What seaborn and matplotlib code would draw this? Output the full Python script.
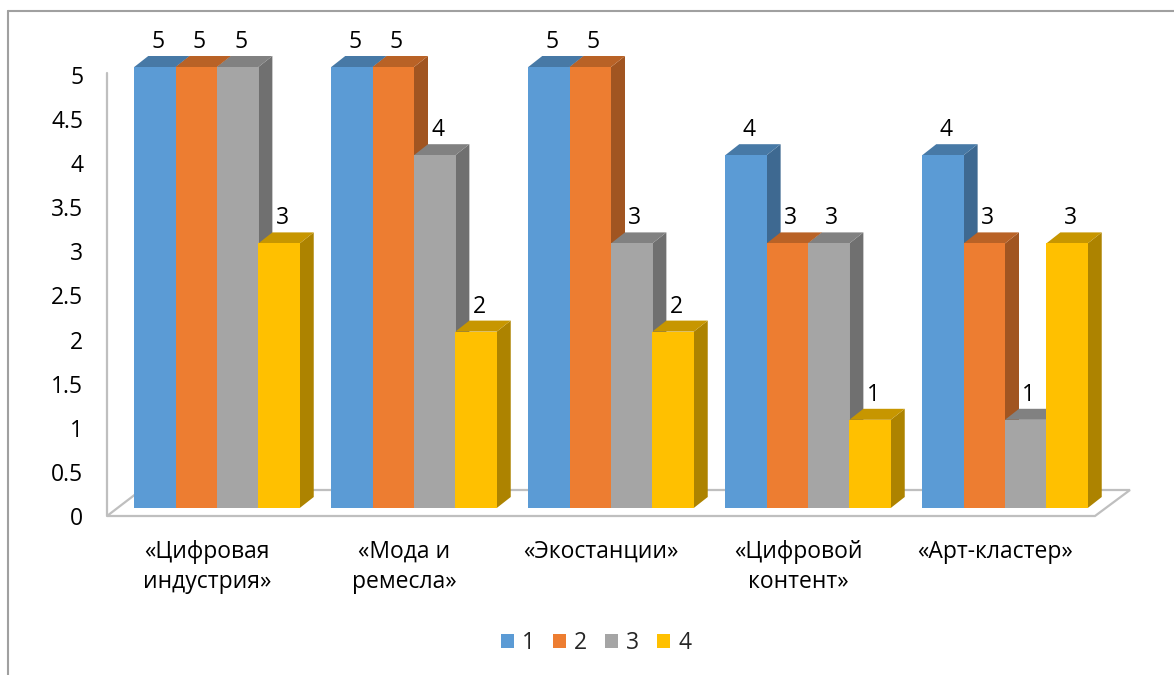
import matplotlib
matplotlib.use("Agg")
import matplotlib.pyplot as plt
import matplotlib.colors as mcolors
from matplotlib.patches import Polygon, Patch
from matplotlib.lines import Line2D
from matplotlib.transforms import ScaledTranslation
import seaborn as sns
import pandas as pd

# Data
categories = ["«Цифровая\nиндустрия»", "«Мода и\nремесла»", "«Экостанции»",
              "«Цифровой\nконтент»", "«Арт-кластер»"]
series = ["1", "2", "3", "4"]
values = {
    "1": [5, 5, 5, 4, 4],
    "2": [5, 5, 5, 3, 3],
    "3": [5, 4, 3, 3, 1],
    "4": [3, 2, 2, 1, 3],
}
colors = ["#5B9BD5", "#ED7D31", "#A5A5A5", "#FFC000"]
yticks = [0, 0.5, 1, 1.5, 2, 2.5, 3, 3.5, 4, 4.5, 5]

rows = []
for s in series:
    for c, v in zip(categories, values[s]):
        rows.append({"cat": c, "series": s, "value": v})
df = pd.DataFrame(rows)

sns.set_theme(style="white")
plt.rcParams['font.family'] = ['Open Sans', 'DejaVu Sans']
FS = 16.5

W, H = 1174, 675
fig = plt.figure(figsize=(W / 100, H / 100), dpi=100)

# axes box in pixels; bar fronts: value 0 at py=508, 88.2 px per unit; group 0 at px=217, 197 px per group
L, R, T, B = 100, 1140, 30, 530
X0, XS, Y0, YS = 217, 197, 508, 88.2
ax = fig.add_axes([L / W, (H - B) / H, (R - L) / W, (B - T) / H])

sns.barplot(data=df, x="cat", y="value", hue="series", palette=colors,
            width=0.84, saturation=1, linewidth=0, legend=False, ax=ax)

ax.set_xlim((L - X0) / XS, (R - X0) / XS)
ax.set_ylim((Y0 - B) / YS, (Y0 - T) / YS)
for sp in ax.spines.values():
    sp.set_visible(False)
ax.set_xlabel("")
ax.set_ylabel("")

def px2x(px):
    return (px - X0) / XS

def py2y(py):
    return (Y0 - py) / YS

# 3D depth
dx, dy = 14 / XS, 11 / YS

def shade(c, f):
    r, g, b = mcolors.to_rgb(c)
    return (r * f, g * f, b * f)

bars = sorted([p for p in ax.patches if p.get_height() > 0], key=lambda p: p.get_x())
for i, p in enumerate(bars):
    x0, w, h = p.get_x(), p.get_width(), p.get_height()
    fc = p.get_facecolor()
    side = Polygon([(x0 + w, 0), (x0 + w + dx, dy), (x0 + w + dx, h + dy), (x0 + w, h)],
                   closed=True, facecolor=shade(fc, 0.68), edgecolor="none", zorder=3 + 3 * i)
    top = Polygon([(x0, h), (x0 + dx, h + dy), (x0 + w + dx, h + dy), (x0 + w, h)],
                  closed=True, facecolor=shade(fc, 0.78), edgecolor="none", zorder=4 + 3 * i)
    ax.add_patch(side)
    ax.add_patch(top)
    p.set_zorder(5 + 3 * i)
    ax.text(x0 + w / 2 + 3 / XS, h + dy + 14 / YS, f"{h:g}", ha="center", va="center",
            fontsize=FS, color="black", zorder=200)

# floor and wall line
floor = Polygon([(px2x(107), py2y(516)), (px2x(1095), py2y(516)),
                 (px2x(1130), py2y(490)), (px2x(141), py2y(490))],
                closed=True, facecolor="none", edgecolor="#BFBFBF", linewidth=1.6, zorder=1)
ax.add_patch(floor)
ax.plot([px2x(107), px2x(107)], [py2y(516), py2y(73)], color="#BFBFBF", lw=1.6, zorder=1)

# ticks
ax.set_yticks(yticks)
ax.set_yticklabels([f"{t:g}" for t in yticks])
ax.tick_params(axis="y", length=0, pad=12, labelsize=FS, labelcolor="black")
ax.tick_params(axis="x", length=0, pad=7, labelsize=FS, labelcolor="black")
for lab in ax.get_yticklabels():
    lab.set_transform(lab.get_transform() + ScaledTranslation(0, -8 / 100, fig.dpi_scale_trans))
for lab in ax.get_xticklabels():
    lab.set_transform(lab.get_transform() + ScaledTranslation(-10 / 100, 0, fig.dpi_scale_trans))
    lab.set_linespacing(1.35)

# legend
handles = [Patch(facecolor=c, edgecolor="none") for c in colors]
fig.legend(handles, series, loc="center", bbox_to_anchor=(596 / W, 1 - 643 / H), ncol=4,
           frameon=False, fontsize=FS, handlelength=0.6, handleheight=0.6,
           handletextpad=0.35, columnspacing=0.75)

# chart frame
fig.add_artist(Line2D([8 / W, 1], [1 - 11 / H, 1 - 11 / H], color="#A0A0A0", lw=1.5))
fig.add_artist(Line2D([8 / W, 8 / W], [0, 1 - 11 / H], color="#A0A0A0", lw=1.5))

fig.savefig("out.png", dpi=100, facecolor="white")
